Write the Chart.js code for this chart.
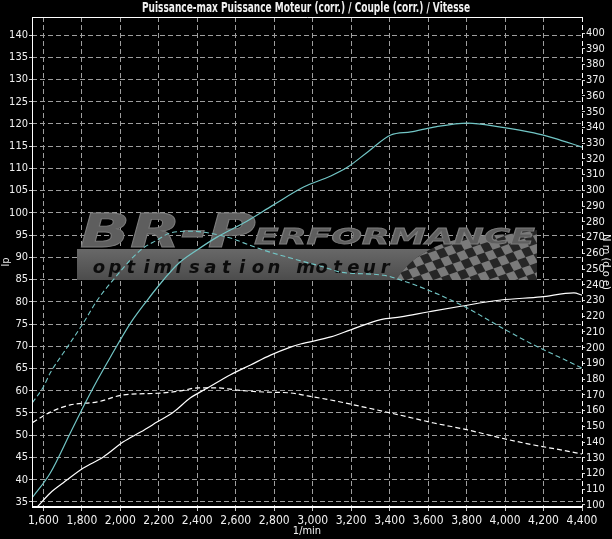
<!DOCTYPE html>
<html>
<head>
<meta charset="utf-8">
<title>Puissance / Couple</title>
<script src="https://cdn.jsdelivr.net/npm/chart.js@4/dist/chart.umd.min.js"></script>
<style>
  html, body { margin: 0; padding: 0; background: #000; }
  #wrap { width: 612px; height: 539px; }
</style>
</head>
<body>
<div id="wrap"><canvas id="dyno" width="612" height="539"></canvas></div>
<script>
// Values (rpm / hp / Nm)
const rpmTicks = [1600, 1800, 2000, 2200, 2400, 2600, 2800, 3000, 3200, 3400, 3600, 3800, 4000, 4200, 4400];
const hpTicks = [35, 40, 45, 50, 55, 60, 65, 70, 75, 80, 85, 90, 95, 100, 105, 110, 115, 120, 125, 130, 135, 140];
const nmTicks = [100, 110, 120, 130, 140, 150, 160, 170, 180, 190, 200, 210, 220, 230, 240, 250, 260, 270, 280, 290, 300, 310, 320, 330, 340, 350, 360, 370, 380, 390, 400];

// Tuned power (cyan, solid)
const tunedPowerRpm = [1545, 1636, 1740, 1808, 1881, 1949, 2053, 2141, 2224, 2297, 2401, 2505, 2641, 2797, 2953, 3094, 3182, 3286, 3406, 3510, 3630, 3806, 3978, 4150, 4254, 4400];
const tunedPowerHp = [36.1, 41.5, 50.5, 56.4, 62.4, 67.6, 75.2, 80.4, 84.9, 88.4, 91.7, 94.6, 97.7, 101.8, 105.8, 108.3, 110.3, 113.7, 117.5, 118.2, 119.3, 120.2, 119.3, 118.0, 116.8, 114.8];

// Tuned torque (cyan, dashed)
const tunedTorqueRpm = [1543, 1600, 1636, 1704, 1808, 1881, 1949, 2105, 2193, 2261, 2365, 2573, 2641, 2745, 2922, 3057, 3146, 3370, 3458, 3598, 3718, 3822, 3978, 4150, 4290, 4400];
const tunedTorqueNm = [165, 175, 184, 196.6, 215.7, 230.3, 241, 262, 268.5, 273, 274, 269.7, 266.6, 262, 255.7, 251.3, 248, 246, 243, 236.7, 230.3, 224, 213, 201.7, 193.5, 187];

// Stock power (white, solid)
const stockPowerRpm = [1569, 1636, 1704, 1808, 1912, 2016, 2105, 2193, 2277, 2365, 2453, 2573, 2677, 2781, 2885, 2937, 3094, 3198, 3354, 3458, 3598, 3770, 3978, 4186, 4358, 4400];
const stockPowerHp = [33.9, 37, 39.3, 42.6, 45.1, 48.5, 50.7, 53, 55.2, 58.4, 60.6, 63.6, 65.8, 68, 69.8, 70.5, 72.1, 73.7, 76, 76.6, 77.7, 79, 80.4, 81.1, 82, 81.5];

// Stock torque (white, dashed)
const stockTorqueRpm = [1545, 1636, 1740, 1881, 2016, 2193, 2313, 2401, 2505, 2610, 2745, 2885, 2974, 3094, 3286, 3458, 3630, 3806, 3978, 4150, 4290, 4400];
const stockTorqueNm = [152.5, 159, 163.6, 165.5, 170, 171, 172.5, 174.4, 174.4, 173, 171.8, 171.2, 169.3, 166.7, 161.7, 157, 152.1, 147.7, 142.6, 138.1, 135, 132.4];

const chartTitle = 'Puissance-max Puissance Moteur (corr.) / Couple (corr.) / Vitesse';

const NARROW = "'Liberation Sans Narrow', 'DejaVu Sans Condensed', 'Arial Narrow', sans-serif";
const CYAN = '#72c6c6';
const GRID = '#9e9e9e';

function pairs(xs, ys) {
    return xs.map((x, i) => ({ x: x, y: ys[i] }));
}

function fixedTicks(list) {
    return scale => { scale.ticks = list.map(v => ({ value: v })); };
}

// title, frame and the BR-Performance watermark
const sheetPlugin = {
    id: 'sheet',
    beforeDraw(chart) {
        const ctx = chart.ctx;
        ctx.save();
        ctx.fillStyle = '#000';
        ctx.fillRect(0, 0, chart.width, chart.height);
        // title, squeezed like the original condensed face
        ctx.font = "bold 14px " + NARROW;
        ctx.fillStyle = '#f0f0f0';
        ctx.textBaseline = 'middle';
        ctx.textAlign = 'center';
        const w = ctx.measureText(chartTitle).width;
        const sx = Math.min(1, 328 / w);
        ctx.translate(306, 8);
        ctx.scale(sx, 1);
        ctx.fillText(chartTitle, 0, 0);
        ctx.restore();
    },
    beforeDatasetsDraw(chart) {
        const ctx = chart.ctx;
        ctx.save();

        // grey band
        const band = ctx.createLinearGradient(0, 249, 0, 280);
        band.addColorStop(0, '#686868');
        band.addColorStop(1, '#4c4c4c');
        ctx.fillStyle = band;
        ctx.fillRect(77, 249, 460, 31);

        // chequered flag on the right of the band
        ctx.save();
        ctx.beginPath();
        ctx.moveTo(396, 280);
        ctx.bezierCurveTo(408, 262, 425, 248, 455, 240);
        ctx.bezierCurveTo(480, 234, 510, 236, 537, 230);
        ctx.lineTo(537, 280);
        ctx.closePath();
        ctx.clip();
        ctx.fillStyle = '#262626';
        ctx.fillRect(390, 225, 150, 60);
        ctx.transform(1, -0.35, 0.55, 1, 0, 0);
        ctx.fillStyle = '#7a7a7a';
        for (let i = -10; i < 30; i++) {
            for (let j = 0; j < 14; j++) {
                if ((i + j) % 2 === 0) ctx.fillRect(250 + i * 8, 330 + j * 8, 8, 8);
            }
        }
        ctx.restore();

        // "optimisation moteur"
        const sub = 'optimisation moteur';
        ctx.font = "italic bold 18px 'DejaVu Sans', sans-serif";
        ctx.fillStyle = '#0c0c0c';
        ctx.textBaseline = 'alphabetic';
        ctx.textAlign = 'center';
        for (let i = 0; i < sub.length; i++) {
            ctx.fillText(sub[i], 99 + i * 15.9, 273);
        }

        // "BR-PERFORMANCE" logo text
        const grad = ctx.createLinearGradient(0, 212, 0, 248);
        grad.addColorStop(0, '#5e5e5e');
        grad.addColorStop(0.45, '#333333');
        grad.addColorStop(1, '#161616');
        function logoText(txt, size, x0, x1, base) {
            ctx.save();
            ctx.font = "italic bold " + size + "px 'DejaVu Sans', sans-serif";
            ctx.textAlign = 'left';
            const tw = ctx.measureText(txt).width;
            ctx.translate(x0, base);
            ctx.scale((x1 - x0) / tw, 1);
            ctx.fillStyle = grad;
            ctx.fillText(txt, 0, 0);
            ctx.lineWidth = 0.8;
            ctx.strokeStyle = '#7c7c7c';
            ctx.strokeText(txt, 0, 0);
            ctx.restore();
        }
        logoText('BR-P', 46, 80, 256, 247);
        logoText('ERFORMANCE', 22, 254, 535, 244);

        ctx.restore();
    },
    afterDraw(chart) {
        const ctx = chart.ctx;
        const a = chart.chartArea;
        ctx.save();
        ctx.strokeStyle = '#ffffff';
        ctx.lineWidth = 1;
        ctx.beginPath();
        ctx.moveTo(a.left + 0.5, a.top + 0.5);
        ctx.lineTo(a.right, a.top + 0.5);
        ctx.moveTo(a.left + 0.5, a.top);
        ctx.lineTo(a.left + 0.5, a.bottom);
        ctx.stroke();
        ctx.lineWidth = 2;
        ctx.beginPath();
        ctx.moveTo(a.left, a.bottom);
        ctx.lineTo(a.right, a.bottom);
        ctx.stroke();
        ctx.lineWidth = 1;
        ctx.setLineDash([5, 3]);
        ctx.beginPath();
        ctx.moveTo(a.right + 0.5, a.top);
        ctx.lineTo(a.right + 0.5, a.bottom);
        ctx.stroke();
        ctx.restore();
    }
};

const ctx = document.getElementById('dyno').getContext('2d');

new Chart(ctx, {
    type: 'line',
    data: {
        datasets: [
            {
                label: 'Puissance (prépa)',
                data: pairs(tunedPowerRpm, tunedPowerHp),
                yAxisID: 'yHp',
                borderColor: CYAN,
                borderWidth: 1.2
            },
            {
                label: 'Couple (prépa)',
                data: pairs(tunedTorqueRpm, tunedTorqueNm),
                yAxisID: 'yNm',
                borderColor: CYAN,
                borderWidth: 1.1,
                borderDash: [5, 3]
            },
            {
                label: 'Puissance (origine)',
                data: pairs(stockPowerRpm, stockPowerHp),
                yAxisID: 'yHp',
                borderColor: '#ffffff',
                borderWidth: 1.2
            },
            {
                label: 'Couple (origine)',
                data: pairs(stockTorqueRpm, stockTorqueNm),
                yAxisID: 'yNm',
                borderColor: '#ffffff',
                borderWidth: 1.2,
                borderDash: [5, 3]
            }
        ]
    },
    options: {
        responsive: false,
        animation: false,
        devicePixelRatio: 1,
        layout: { padding: { top: 17, left: 0, right: 0, bottom: 0 } },
        elements: {
            point: { radius: 0 },
            line: { tension: 0, cubicInterpolationMode: 'monotone', fill: false }
        },
        plugins: {
            legend: { display: false },
            title: { display: false },
            tooltip: { enabled: false }
        },
        scales: {
            x: {
                type: 'linear',
                min: 1541,
                max: 4400,
                afterBuildTicks: fixedTicks(rpmTicks),
                afterFit: s => { s.height = 32; },
                grid: { color: GRID, lineWidth: 1, tickLength: 4, tickColor: '#cfcfcf' },
                border: { display: false, dash: [5, 3] },
                ticks: {
                    color: '#f0f0f0',
                    font: { family: NARROW, size: 12 },
                    padding: 3,
                    maxRotation: 0,
                    autoSkip: false,
                    callback: v => v.toLocaleString('en-US')
                },
                title: {
                    display: true,
                    text: '1/min',
                    color: '#f0f0f0',
                    font: { family: NARROW, size: 11 },
                    padding: { top: 0, bottom: 1 }
                }
            },
            yHp: {
                type: 'linear',
                position: 'left',
                min: 33.85,
                max: 144.05,
                afterBuildTicks: fixedTicks(hpTicks),
                afterFit: s => { s.width = 32; },
                grid: { color: GRID, lineWidth: 1, tickLength: 3, tickColor: '#cfcfcf' },
                border: { display: false, dash: [5, 3] },
                ticks: {
                    color: '#f0f0f0',
                    font: { family: NARROW, size: 11 },
                    padding: 1
                },
                title: {
                    display: true,
                    text: 'lp',
                    color: '#f0f0f0',
                    font: { family: NARROW, size: 11 },
                    padding: { top: 0, bottom: 0 }
                }
            },
            yNm: {
                type: 'linear',
                position: 'right',
                min: 98.7,
                max: 410.2,
                afterBuildTicks: fixedTicks(nmTicks),
                afterFit: s => { s.width = 30; },
                grid: { drawOnChartArea: false, tickLength: 3, tickColor: '#cfcfcf' },
                border: { display: false },
                ticks: {
                    color: '#f0f0f0',
                    font: { family: NARROW, size: 11 },
                    padding: 1
                },
                title: {
                    display: true,
                    text: 'N m (d o e)',
                    color: '#f0f0f0',
                    font: { family: NARROW, size: 11 },
                    padding: { top: 0, bottom: 0 }
                }
            }
        }
    },
    plugins: [sheetPlugin]
});
</script>
</body>
</html>
